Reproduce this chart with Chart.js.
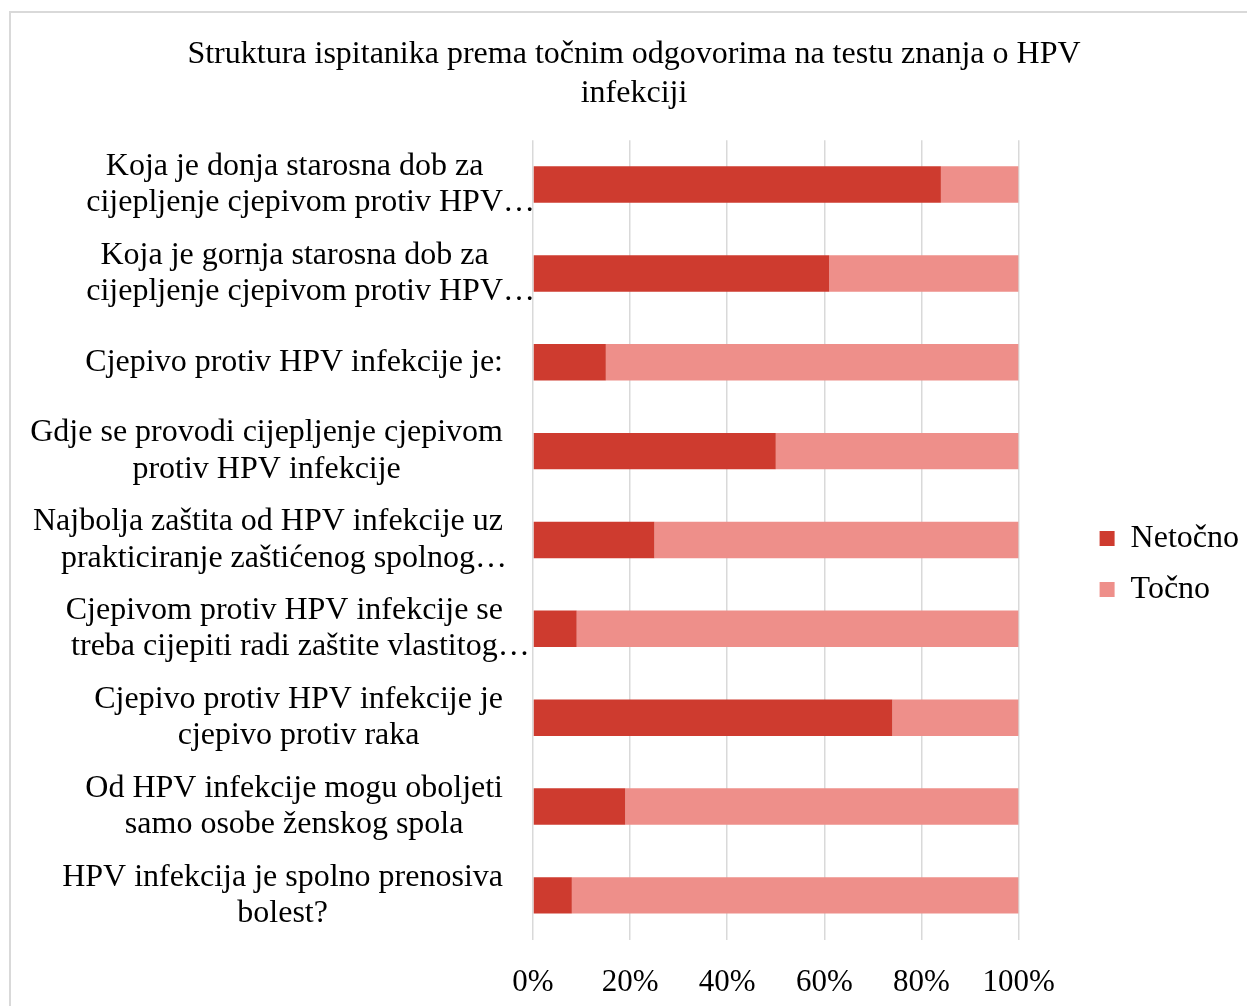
<!DOCTYPE html>
<html>
<head>
<meta charset="utf-8">
<script src="https://cdn.jsdelivr.net/npm/chart.js@4.4.1/dist/chart.umd.min.js"></script>
<style>
  html, body { margin: 0; padding: 0; background: #fff; overflow: hidden; }
  #box { position: absolute; left: 9px; top: 11px; width: 1246px; height: 1016px; border: 2px solid #d9d9d9; }
  #c { display: block; }
</style>
</head>
<body>
<div id="box"><canvas id="c" width="1246" height="1016"></canvas></div>
<script>
const titleLines = ['Struktura ispitanika prema točnim odgovorima na testu znanja o HPV', 'infekciji'];
const categories = [
  ['Koja je donja starosna dob za', 'cijepljenje cjepivom protiv HPV…'],
  ['Koja je gornja starosna dob za', 'cijepljenje cjepivom protiv HPV…'],
  ['Cjepivo protiv HPV infekcije je:'],
  ['Gdje se provodi cijepljenje cjepivom', 'protiv HPV infekcije'],
  ['Najbolja zaštita od HPV infekcije uz', 'prakticiranje zaštićenog spolnog…'],
  ['Cjepivom protiv HPV infekcije se', 'treba cijepiti radi zaštite vlastitog…'],
  ['Cjepivo protiv HPV infekcije je', 'cjepivo protiv raka'],
  ['Od HPV infekcije mogu oboljeti', 'samo osobe ženskog spola'],
  ['HPV infekcija je spolno prenosiva', 'bolest?']
];
const seriesNames = ['Netočno', 'Točno'];
const netocno = [84, 61, 15, 50, 25, 9, 74, 19, 8];
const tocno = [16, 39, 85, 50, 75, 91, 26, 81, 92];
const xTicks = [0, 20, 40, 60, 80, 100];

const FONT = "'Times New Roman', 'Liberation Serif', serif";

const catLabelPlugin = {
  id: 'catLabels',
  afterDraw(chart) {
    const ctx = chart.ctx;
    const yScale = chart.scales.y;
    const area = chart.chartArea;
    const fontSize = 32;
    const lineH = 36.5;
    ctx.save();
    ctx.font = fontSize + 'px ' + FONT;
    ctx.fillStyle = '#000';
    ctx.textBaseline = 'middle';
    ctx.textAlign = 'left';
    const blockRight = area.left - 30;
    categories.forEach((lines, i) => {
      const yc = yScale.getPixelForValue(i);
      const stripped = lines.map(l => l.replace(/…$/, ''));
      const widths = stripped.map(l => ctx.measureText(l).width);
      const blockW = Math.max(...widths);
      const center = blockRight - blockW / 2;
      const y0 = yc - (lines.length - 1) * lineH / 2;
      lines.forEach((l, k) => {
        ctx.fillText(l, center - widths[k] / 2, y0 + k * lineH);
      });
    });
    ctx.restore();
  }
};

new Chart(document.getElementById('c'), {
  type: 'bar',
  data: {
    labels: categories,
    datasets: [
      { label: seriesNames[0], data: netocno, backgroundColor: '#CE3B2F', borderWidth: 0 },
      { label: seriesNames[1], data: tocno, backgroundColor: '#EE8F8A', borderWidth: 0 }
    ]
  },
  options: {
    indexAxis: 'y',
    responsive: false,
    animation: false,
    datasets: { bar: { categoryPercentage: 1, barPercentage: 0.41 } },
    layout: { padding: { left: 8, right: 8, top: 0, bottom: 4 } },
    scales: {
      x: {
        stacked: true, min: 0, max: 100,
        afterBuildTicks: s => { s.ticks = xTicks.map(v => ({ value: v })); },
        ticks: { callback: v => v + '%', color: '#000', padding: 24, font: { family: FONT, size: 31 } },
        grid: { color: '#d9d9d9', lineWidth: 1.5, drawTicks: false },
        border: { display: false }
      },
      y: {
        stacked: true, display: true,
        grid: { display: false }, ticks: { display: false }, border: { display: false },
        afterFit: s => { s.width = 514; }
      },
      yRight: {
        type: 'linear', position: 'right', display: true,
        grid: { display: false }, ticks: { display: false }, border: { display: false },
        afterFit: s => { s.width = 62; }
      }
    },
    plugins: {
      title: {
        display: true, text: titleLines, color: '#000',
        font: { family: FONT, size: 32, weight: 'normal', lineHeight: 1.19 },
        padding: { top: 23, bottom: 28 }
      },
      legend: {
        position: 'right', align: 'center',
        title: { display: true, text: ' ', font: { size: 10 }, padding: { top: 0, bottom: 78 } },
        labels: { boxWidth: 15, boxHeight: 15, padding: 19, color: '#000', font: { family: FONT, size: 32 } }
      },
      tooltip: { enabled: false }
    }
  },
  plugins: [catLabelPlugin]
});
</script>
</body>
</html>
